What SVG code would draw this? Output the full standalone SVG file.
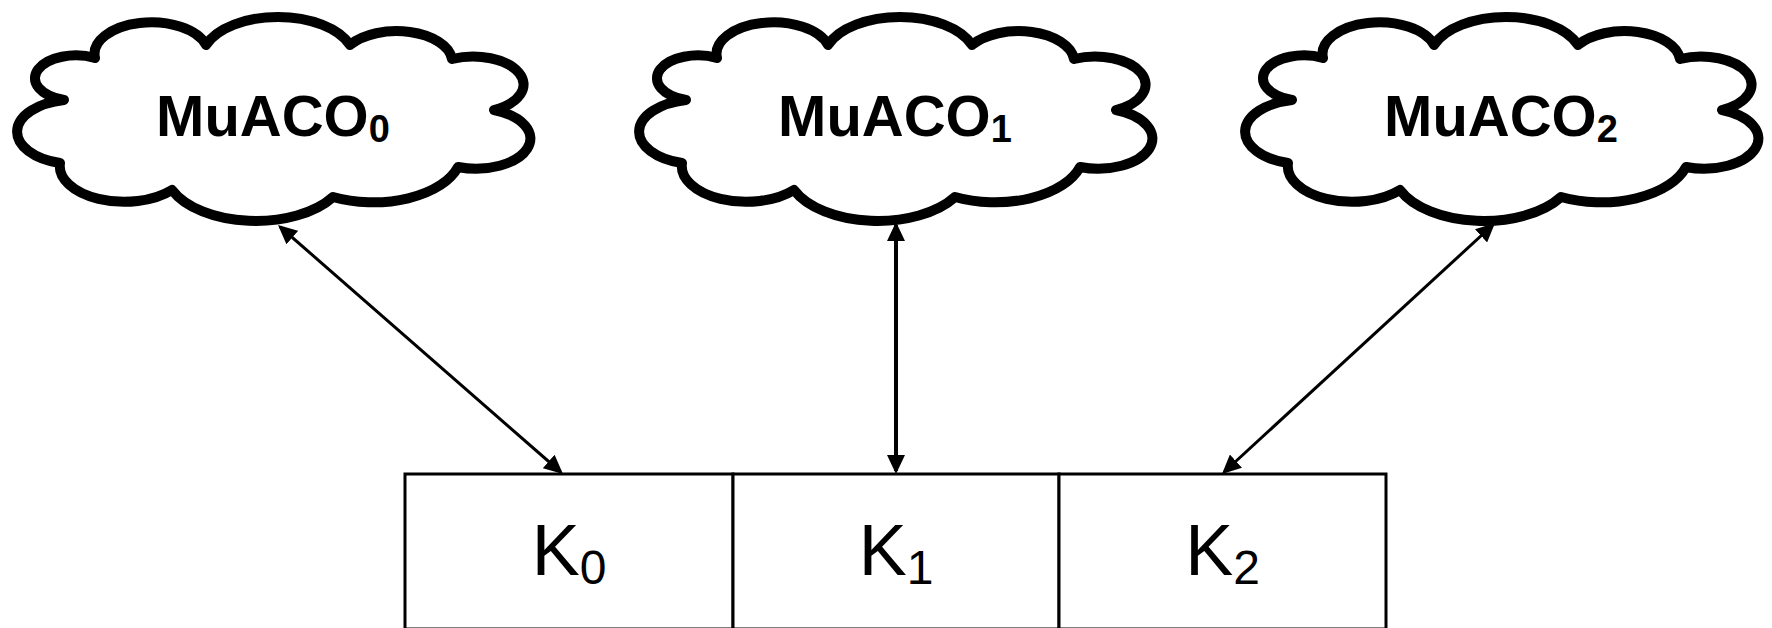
<svg xmlns="http://www.w3.org/2000/svg" xmlns:xlink="http://www.w3.org/1999/xlink" width="1772" height="628" viewBox="0 0 1772 628">
  <defs>
    <style>
      .cloud { fill: #ffffff; stroke: #000000; stroke-width: 10; stroke-linejoin: round; }
      .cloud-label { font-family: "Liberation Sans", Arial, sans-serif; font-weight: bold; font-size: 58px; fill: #000000; text-anchor: middle; }
      .cloud-label .sub { font-size: 38px; }
      .cell { fill: #ffffff; stroke: #000000; stroke-width: 3; }
      .cell-label { font-family: "Liberation Sans", Arial, sans-serif; font-size: 72px; fill: #000000; text-anchor: middle; }
      .cell-label .sub { font-size: 48px; }
      .link { fill: none; stroke: #000000; stroke-width: 3; marker-start: url(#tip); marker-end: url(#tip); }
      .link.straight { stroke-width: 4; }
    </style>
    <marker id="tip" viewBox="0 0 19 18" markerWidth="19" markerHeight="18" markerUnits="userSpaceOnUse" refX="16" refY="9" orient="auto-start-reverse">
      <path d="M0,0 L19,9 L0,18 Z" fill="#000000"/>
    </marker>
    <!-- ten-lobed cloud outline made of elliptical arcs, at the left cloud's position -->
    <path id="cloudShape" d="M64,100
      A41 22.8 0 1 1 95,58
      A56.9 31.6 0 0 1 206,45
      A76.6 42.6 0 0 1 350,45
      A55.8 31 0 0 1 452,59
      A50.5 28 0 1 1 494,110
      A54.4 30.2 0 0 1 458,167
      A88.5 49.2 0 0 1 333,197
      A90.7 50.4 0 0 1 172,190
      A64.4 35.8 0 0 1 60,163
      A58.4 32.4 0 0 1 64,100 Z"/>
  </defs>

  <rect x="0" y="0" width="1772" height="628" fill="#ffffff"/>

  <!-- colonies -->
  <g id="muaco0">
    <use xlink:href="#cloudShape" href="#cloudShape" class="cloud"/>
    <text class="cloud-label" x="273" y="136">MuACO<tspan class="sub" dy="6">0</tspan></text>
  </g>
  <g id="muaco1">
    <use xlink:href="#cloudShape" href="#cloudShape" class="cloud" transform="translate(622,0)"/>
    <text class="cloud-label" x="895" y="136">MuACO<tspan class="sub" dy="6">1</tspan></text>
  </g>
  <g id="muaco2">
    <use xlink:href="#cloudShape" href="#cloudShape" class="cloud" transform="translate(1228,0)"/>
    <text class="cloud-label" x="1501" y="136">MuACO<tspan class="sub" dy="6">2</tspan></text>
  </g>

  <!-- shared array cells -->
  <g id="k0">
    <rect class="cell" x="405" y="474" width="328" height="155"/>
    <text class="cell-label" x="569" y="575">K<tspan class="sub" dy="9">0</tspan></text>
  </g>
  <g id="k1">
    <rect class="cell" x="733" y="474" width="326" height="155"/>
    <text class="cell-label" x="896" y="575">K<tspan class="sub" dy="9">1</tspan></text>
  </g>
  <g id="k2">
    <rect class="cell" x="1059" y="474" width="327" height="155"/>
    <text class="cell-label" x="1222.5" y="575">K<tspan class="sub" dy="9">2</tspan></text>
  </g>

  <!-- two-way links between colonies and cells -->
  <g id="connectors">
    <line class="link" x1="280.3" y1="227" x2="560.7" y2="472"/>
    <line class="link straight" x1="896" y1="225" x2="896" y2="471"/>
    <line class="link" x1="1492.8" y1="225" x2="1224.2" y2="472"/>
  </g>
</svg>
